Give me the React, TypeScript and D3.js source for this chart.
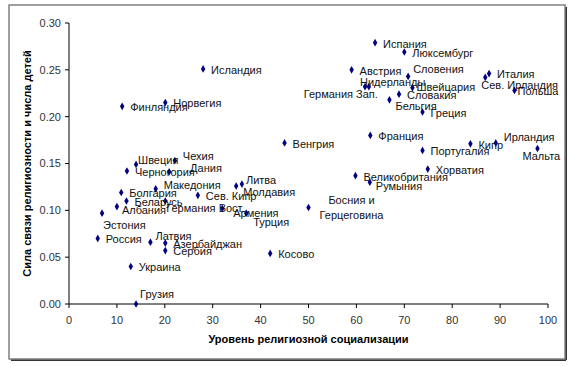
import { scaleLinear, symbol, symbolDiamond, range } from 'd3';

const countries = [
  'Исландия', 'Норвегия', 'Финляндия', 'Испания', 'Люксембург', 'Австрия', 'Словения',
  'Нидерланды', 'Германия Зап.', 'Швейцария', 'Словакия', 'Бельгия', 'Греция', 'Франция',
  'Венгрия', 'Португалия', 'Италия', 'Сев. Ирландия', 'Польша', 'Кипр', 'Ирландия', 'Мальта',
  'Хорватия', 'Великобритания', 'Румыния', 'Босния и Герцеговина', 'Косово', 'Литва', 'Молдавия',
  'Сев. Кипр', 'Германия Вост.', 'Армения', 'Турция', 'Швеция', 'Чехия', 'Черногория', 'Дания',
  'Македония', 'Болгария', 'Беларусь', 'Албания', 'Эстония', 'Россия', 'Латвия', 'Азербайджан',
  'Сербия', 'Украина', 'Грузия',
];
// уровень религиозной социализации
const socialization = [
  28.0, 20.1, 11.1, 63.9, 70.0, 59.0, 70.8,
  61.8, 62.6, 71.7, 68.9, 66.9, 73.8, 62.9,
  45.0, 73.8, 87.7, 86.9, 93.0, 83.8, 89.1, 97.8,
  74.9, 59.8, 62.8, 50.0, 42.0, 36.1, 34.9,
  26.9, 20.1, 32.0, 37.0, 14.0, 22.1, 12.1, 20.9,
  18.1, 10.9, 12.0, 10.0, 6.9, 6.0, 17.0, 20.1,
  20.1, 12.9, 14.0,
];
// сила связи религиозности и числа детей
const strength = [
  0.251, 0.215, 0.211, 0.279, 0.269, 0.250, 0.243,
  0.232, 0.232, 0.231, 0.224, 0.218, 0.205, 0.180,
  0.172, 0.164, 0.246, 0.242, 0.228, 0.171, 0.172, 0.166,
  0.144, 0.137, 0.130, 0.103, 0.054, 0.128, 0.126,
  0.116, 0.110, 0.102, 0.097, 0.149, 0.153, 0.142, 0.141,
  0.123, 0.119, 0.110, 0.104, 0.097, 0.070, 0.066, 0.065,
  0.057, 0.040, 0.000,
];
const xTicks = range(0, 101, 10);
const yTicks = [0, 0.05, 0.1, 0.15, 0.2, 0.25, 0.3];

// label placement relative to the marker: [dx, dy, anchor]
const labelNudge: Record<string, [number, number, string?]> = {
  'Словения': [5, -7],
  'Нидерланды': [-5, -5],
  'Германия Зап.': [9, 7, 'end'],
  'Швейцария': [4, 0],
  'Бельгия': [6, 6],
  'Сев. Ирландия': [-4, 8],
  'Польша': [3, 1],
  'Ирландия': [8, -6],
  'Мальта': [-15, 8],
  'Румыния': [6, 4],
  'Литва': [4, -4],
  'Молдавия': [7, 6],
  'Германия Вост.': [1, 7],
  'Армения': [11, 5],
  'Турция': [7, 9],
  'Швеция': [2, -4],
  'Чехия': [8, -5],
  'Дания': [21, -4],
  'Македония': [8, -4],
  'Албания': [5, 4],
  'Эстония': [1, 12],
  'Латвия': [5, -6],
  'Грузия': [4, -10],
};

const W = 570;
const H = 367;
const M = { left: 69, right: 548, top: 23, bottom: 304 };
const FONT = '"Liberation Sans", Arial, sans-serif';

export default function App() {
  const x = scaleLinear().domain([0, 100]).range([M.left, M.right]);
  const y = scaleLinear().domain([0, 0.3]).range([M.bottom, M.top]);
  const diamond = symbol().type(symbolDiamond).size(17)() as string;

  return (
    <svg width={W} height={H} style={{ position: 'absolute', left: 0, top: 0, background: '#fff' }} fontFamily={FONT}>
      {/* chart frame with shadow */}
      <line x1={11} y1={360} x2={566} y2={360} stroke="#333" strokeWidth={2} />
      <line x1={566} y1={7} x2={566} y2={360} stroke="#333" strokeWidth={2} />
      <rect x={9} y={5} width={556} height={354} fill="none" stroke="#808080" strokeWidth={1.5} />

      {/* y axis */}
      <line x1={M.left} x2={M.left} y1={M.top} y2={M.bottom} stroke="#000" />
      {yTicks.map((t) => (
        <g key={t}>
          <line x1={M.left - 4} x2={M.left} y1={y(t)} y2={y(t)} stroke="#000" />
          <text x={M.left - 8} y={y(t)} dy="0.35em" textAnchor="end" fontSize={11} fill="#333">
            {t.toFixed(2)}
          </text>
        </g>
      ))}

      {/* x axis */}
      <line x1={M.left} x2={M.right} y1={M.bottom} y2={M.bottom} stroke="#000" />
      {xTicks.map((t) => (
        <g key={t}>
          <line x1={x(t)} x2={x(t)} y1={M.bottom} y2={M.bottom + 4} stroke="#000" />
          <text x={x(t)} y={320} dy="0.35em" textAnchor="middle" fontSize={11} fill="#333">
            {t}
          </text>
        </g>
      ))}

      <text x={(M.left + M.right) / 2} y={339} dy="0.35em" textAnchor="middle" fontSize={11} fontWeight="bold">
        Уровень религиозной социализации
      </text>
      <text
        transform={`translate(27, ${(M.top + M.bottom) / 2}) rotate(-90)`}
        dy="0.35em"
        textAnchor="middle"
        fontSize={11}
        fontWeight="bold"
      >
        Сила связи религиозности и числа детей
      </text>

      {/* points */}
      {countries.map((c, i) => (
        <path key={c} d={diamond} transform={`translate(${x(socialization[i])}, ${y(strength[i])})`} fill="#000080" />
      ))}

      {/* labels */}
      {countries.map((c, i) => {
        const px = x(socialization[i]);
        const py = y(strength[i]);
        if (c === 'Босния и Герцеговина') {
          return (
            <text key={c} x={px + 43} y={py} textAnchor="middle" fontSize={11} fill="#111">
              <tspan x={px + 43} dy="-3.5">Босния и</tspan>
              <tspan x={px + 43} dy="15">Герцеговина</tspan>
            </text>
          );
        }
        const [dx, dy, anchor] = labelNudge[c] ?? [8, 1];
        return (
          <text key={c} x={px + dx} y={py + dy} dy="0.35em" textAnchor={anchor ?? 'start'} fontSize={11} fill="#111">
            {c}
          </text>
        );
      })}
    </svg>
  );
}
